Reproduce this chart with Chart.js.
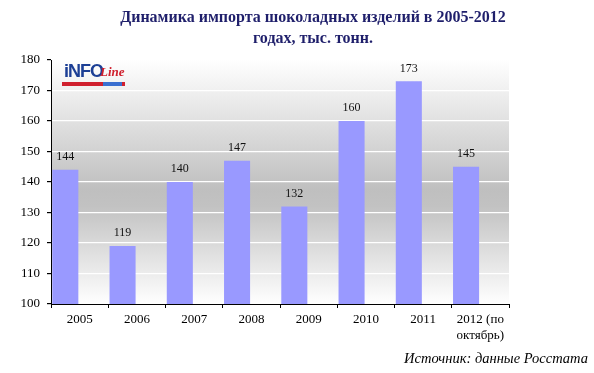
<!DOCTYPE html>
<html>
<head>
<meta charset="utf-8">
<script src="https://cdn.jsdelivr.net/npm/chart.js@4/dist/chart.umd.min.js"></script>
<style>
  html, body { margin: 0; padding: 0; background: #fff; }
  #wrap { position: relative; width: 594px; height: 373px; overflow: hidden; }
  canvas { position: absolute; left: 0; top: 0; }
  #title { position: absolute; left: 40px; width: 546px; top: 6px; text-align: center;
           font: bold 16px "Liberation Serif", "Times New Roman", serif; color: #1f1f6b; line-height: 21px; }
  #source { position: absolute; right: 6px; top: 350px;
            font: italic 14.5px "Liberation Serif", "Times New Roman", serif; color: #000; }
  #logo { position: absolute; left: 62px; top: 62px; width: 64px; height: 26px; }
  #logo .t1 { position: absolute; left: 2px; top: -1px; font: bold 18px "Liberation Sans", Arial, sans-serif; color: #1c3f95; letter-spacing: -1px; }
  #logo .t2 { position: absolute; left: 38px; top: 2px; font: italic bold 13px "Liberation Serif", serif; color: #d0202e; }
  #logo .bar { position: absolute; left: 0px; top: 20px; width: 63px; height: 4px; background: #d0202e; }
  #logo .bar2 { position: absolute; left: 41px; top: 20px; width: 19px; height: 4px; background: #3a6fd0; }
</style>
</head>
<body>
<div id="wrap">
  <canvas id="c" width="594" height="373"></canvas>
  <div id="title">Динамика импорта шоколадных изделий в 2005-2012<br>годах, тыс. тонн.</div>
  <div id="logo"><span class="t1">iNFO</span><span class="t2">Line</span><div class="bar"></div><div class="bar2"></div></div>
  <div id="source">Источник: данные Росстата</div>
</div>
<script>
const categories = ["2005", "2006", "2007", "2008", "2009", "2010", "2011", ["2012 (по", "октябрь)"]];
const importValues = [144, 119, 140, 147, 132, 160, 173, 145];
const spacerValues = [null, null, null, null, null, null, null, null];
const yMin = 100, yMax = 180, yStep = 10;

const bgPlugin = {
  id: 'bgGradient',
  beforeDraw(chart) {
    const { ctx, chartArea: a } = chart;
    const g = ctx.createLinearGradient(0, a.top, 0, a.bottom);
    g.addColorStop(0, '#ffffff');
    g.addColorStop(0.53, '#bfbfbf');
    g.addColorStop(0.6, '#c2c2c2');
    g.addColorStop(1, '#ffffff');
    ctx.save();
    ctx.fillStyle = g;
    ctx.fillRect(a.left, a.top, a.right - a.left, a.bottom - a.top);
    ctx.restore();
  }
};

const labelPlugin = {
  id: 'valueLabels',
  afterDatasetsDraw(chart) {
    const { ctx } = chart;
    const meta = chart.getDatasetMeta(0);
    ctx.save();
    ctx.font = '12px "Liberation Serif", "Times New Roman", serif';
    ctx.fillStyle = '#111';
    ctx.textAlign = 'center';
    ctx.textBaseline = 'bottom';
    meta.data.forEach((bar, i) => {
      ctx.fillText(String(importValues[i]), bar.x, bar.y - 7);
    });
    ctx.restore();
  }
};

new Chart(document.getElementById('c'), {
  type: 'bar',
  data: {
    labels: categories,
    datasets: [
      { data: importValues, backgroundColor: '#9999ff', borderWidth: 0 },
      { data: spacerValues, backgroundColor: 'rgba(0,0,0,0)', borderWidth: 0 }
    ]
  },
  options: {
    responsive: false,
    devicePixelRatio: 1,
    animation: false,
    layout: { padding: { top: 60, right: 85, left: 0, bottom: 0 } },
    categoryPercentage: 1,
    barPercentage: 0.91,
    plugins: { legend: { display: false }, tooltip: { enabled: false } },
    scales: {
      x: {
        grid: { offset: true, drawOnChartArea: false, tickLength: 4, color: '#000', tickColor: '#000' },
        border: { color: '#000', width: 1 },
        ticks: { color: '#000', padding: 4, maxRotation: 0, autoSkip: false,
                 font: { family: '"Liberation Serif", "Times New Roman", serif', size: 13 } },
        afterFit(s) { s.height = 69; }
      },
      y: {
        min: yMin, max: yMax,
        grid: { tickLength: 4, tickColor: '#000',
                color: (c) => (c.tick && (c.tick.value === yMin || c.tick.value === yMax)) ? 'rgba(0,0,0,0)' : '#ffffff',
                lineWidth: 1.2 },
        border: { color: '#000', width: 1 },
        ticks: { stepSize: yStep, color: '#000', padding: 7,
                 font: { family: '"Liberation Serif", "Times New Roman", serif', size: 13 } },
        afterFit(s) { s.width = 51; }
      }
    }
  },
  plugins: [bgPlugin, labelPlugin]
});
</script>
</body>
</html>
